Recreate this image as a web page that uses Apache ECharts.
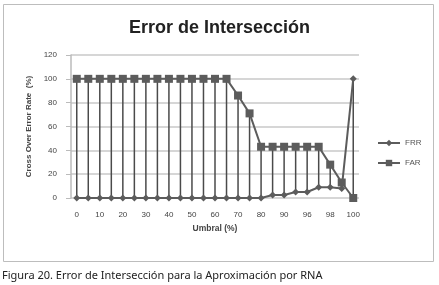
<!DOCTYPE html>
<html>
<head>
<meta charset="utf-8">
<script src="https://cdn.jsdelivr.net/npm/echarts@6/dist/echarts.min.js"></script>
<style>html,body{margin:0;padding:0;background:#fff;}#c{width:439px;height:285px;}</style>
</head>
<body>
<div id="c"></div>
<script>
const categories = ['0','5','10','15','20','25','30','35','40','45','50','55','60','65','70','75','80','85','90','95','96','97','98','99','100'];
const frr = [0,0,0,0,0,0,0,0,0,0,0,0,0,0,0,0,0,2.5,2.5,5,5,9,9,8,100];
const far = [100,100,100,100,100,100,100,100,100,100,100,100,100,100,86,71,43,43,43,43,43,43,28,13,0];
const yTicks = {min:0, max:120, interval:20};

const chart = echarts.init(document.getElementById('c'), null, {renderer:'canvas'});
const dropData = categories.map((c,i)=>[i, frr[i], far[i]]);
const lineColor = '#5c5c5c';
const font = 'Liberation Sans';
chart.setOption({
  animation:false,
  backgroundColor:'#fff',
  title:{text:'Error de Intersección', left:'center', top:19, textStyle:{fontFamily:font, fontWeight:'bold', fontSize:18, color:'#222'}, padding:0},
  graphic:[
    {type:'rect', shape:{x:3.5,y:4.5,width:430,height:257}, style:{fill:'none', stroke:'#bdbdbd', lineWidth:1}, z:-10},
    {type:'text', left:2, top:270, style:{text:'Figura 20. Error de Intersección para la Aproximación por RNA', font:'11px "Noto Sans"', fill:'#222'}}
  ],
  legend:{orient:'vertical', left:372, top:134, itemWidth:22, itemHeight:8, itemGap:12,
    textStyle:{fontFamily:font, fontSize:8, color:'#555'}, data:['FRR','FAR']},
  grid:{left:71, right:80, top:55, bottom:87},
  xAxis:{type:'category', data:categories, boundaryGap:true,
    name:'Umbral (%)', nameLocation:'middle', nameGap:22,
    nameTextStyle:{fontFamily:font, fontWeight:'bold', fontSize:8.5, color:'#444'},
    axisLine:{show:false}, axisTick:{show:false},
    axisLabel:{interval:1, fontFamily:font, fontSize:8, color:'#444', margin:13}},
  yAxis:{type:'value', min:yTicks.min, max:yTicks.max, interval:yTicks.interval,
    name:'Cross Over Error Rate  (%)', nameLocation:'middle', nameGap:38,
    nameTextStyle:{fontFamily:font, fontWeight:'bold', fontSize:8, color:'#444'},
    axisLine:{show:true, lineStyle:{color:'#bbb', width:1.5}}, axisTick:{show:true, length:5, lineStyle:{color:'#bbb'}},
    axisLabel:{fontFamily:font, fontSize:8, color:'#444', margin:14},
    splitLine:{lineStyle:{color:'#c8c8c8', width:1.5}}},
  series:[
    {type:'custom', name:'drop', silent:true, z:1, data:dropData, encode:{x:0, y:[1,2]},
     renderItem:function(params, api){
       const a = api.coord([api.value(0), api.value(1)]);
       const b = api.coord([api.value(0), api.value(2)]);
       return {type:'line', shape:{x1:a[0], y1:a[1], x2:b[0], y2:b[1]}, style:{stroke:'#4a4a4a', lineWidth:1.5}};
     }},
    {type:'line', name:'FRR', data:frr, z:3, symbol:'diamond', symbolSize:7, showAllSymbol:true,
     lineStyle:{color:lineColor, width:2}, itemStyle:{color:lineColor}},
    {type:'line', name:'FAR', data:far, z:4, symbol:'rect', symbolSize:8, showAllSymbol:true,
     lineStyle:{color:lineColor, width:2}, itemStyle:{color:lineColor}}
  ]
});
</script>
</body>
</html>
